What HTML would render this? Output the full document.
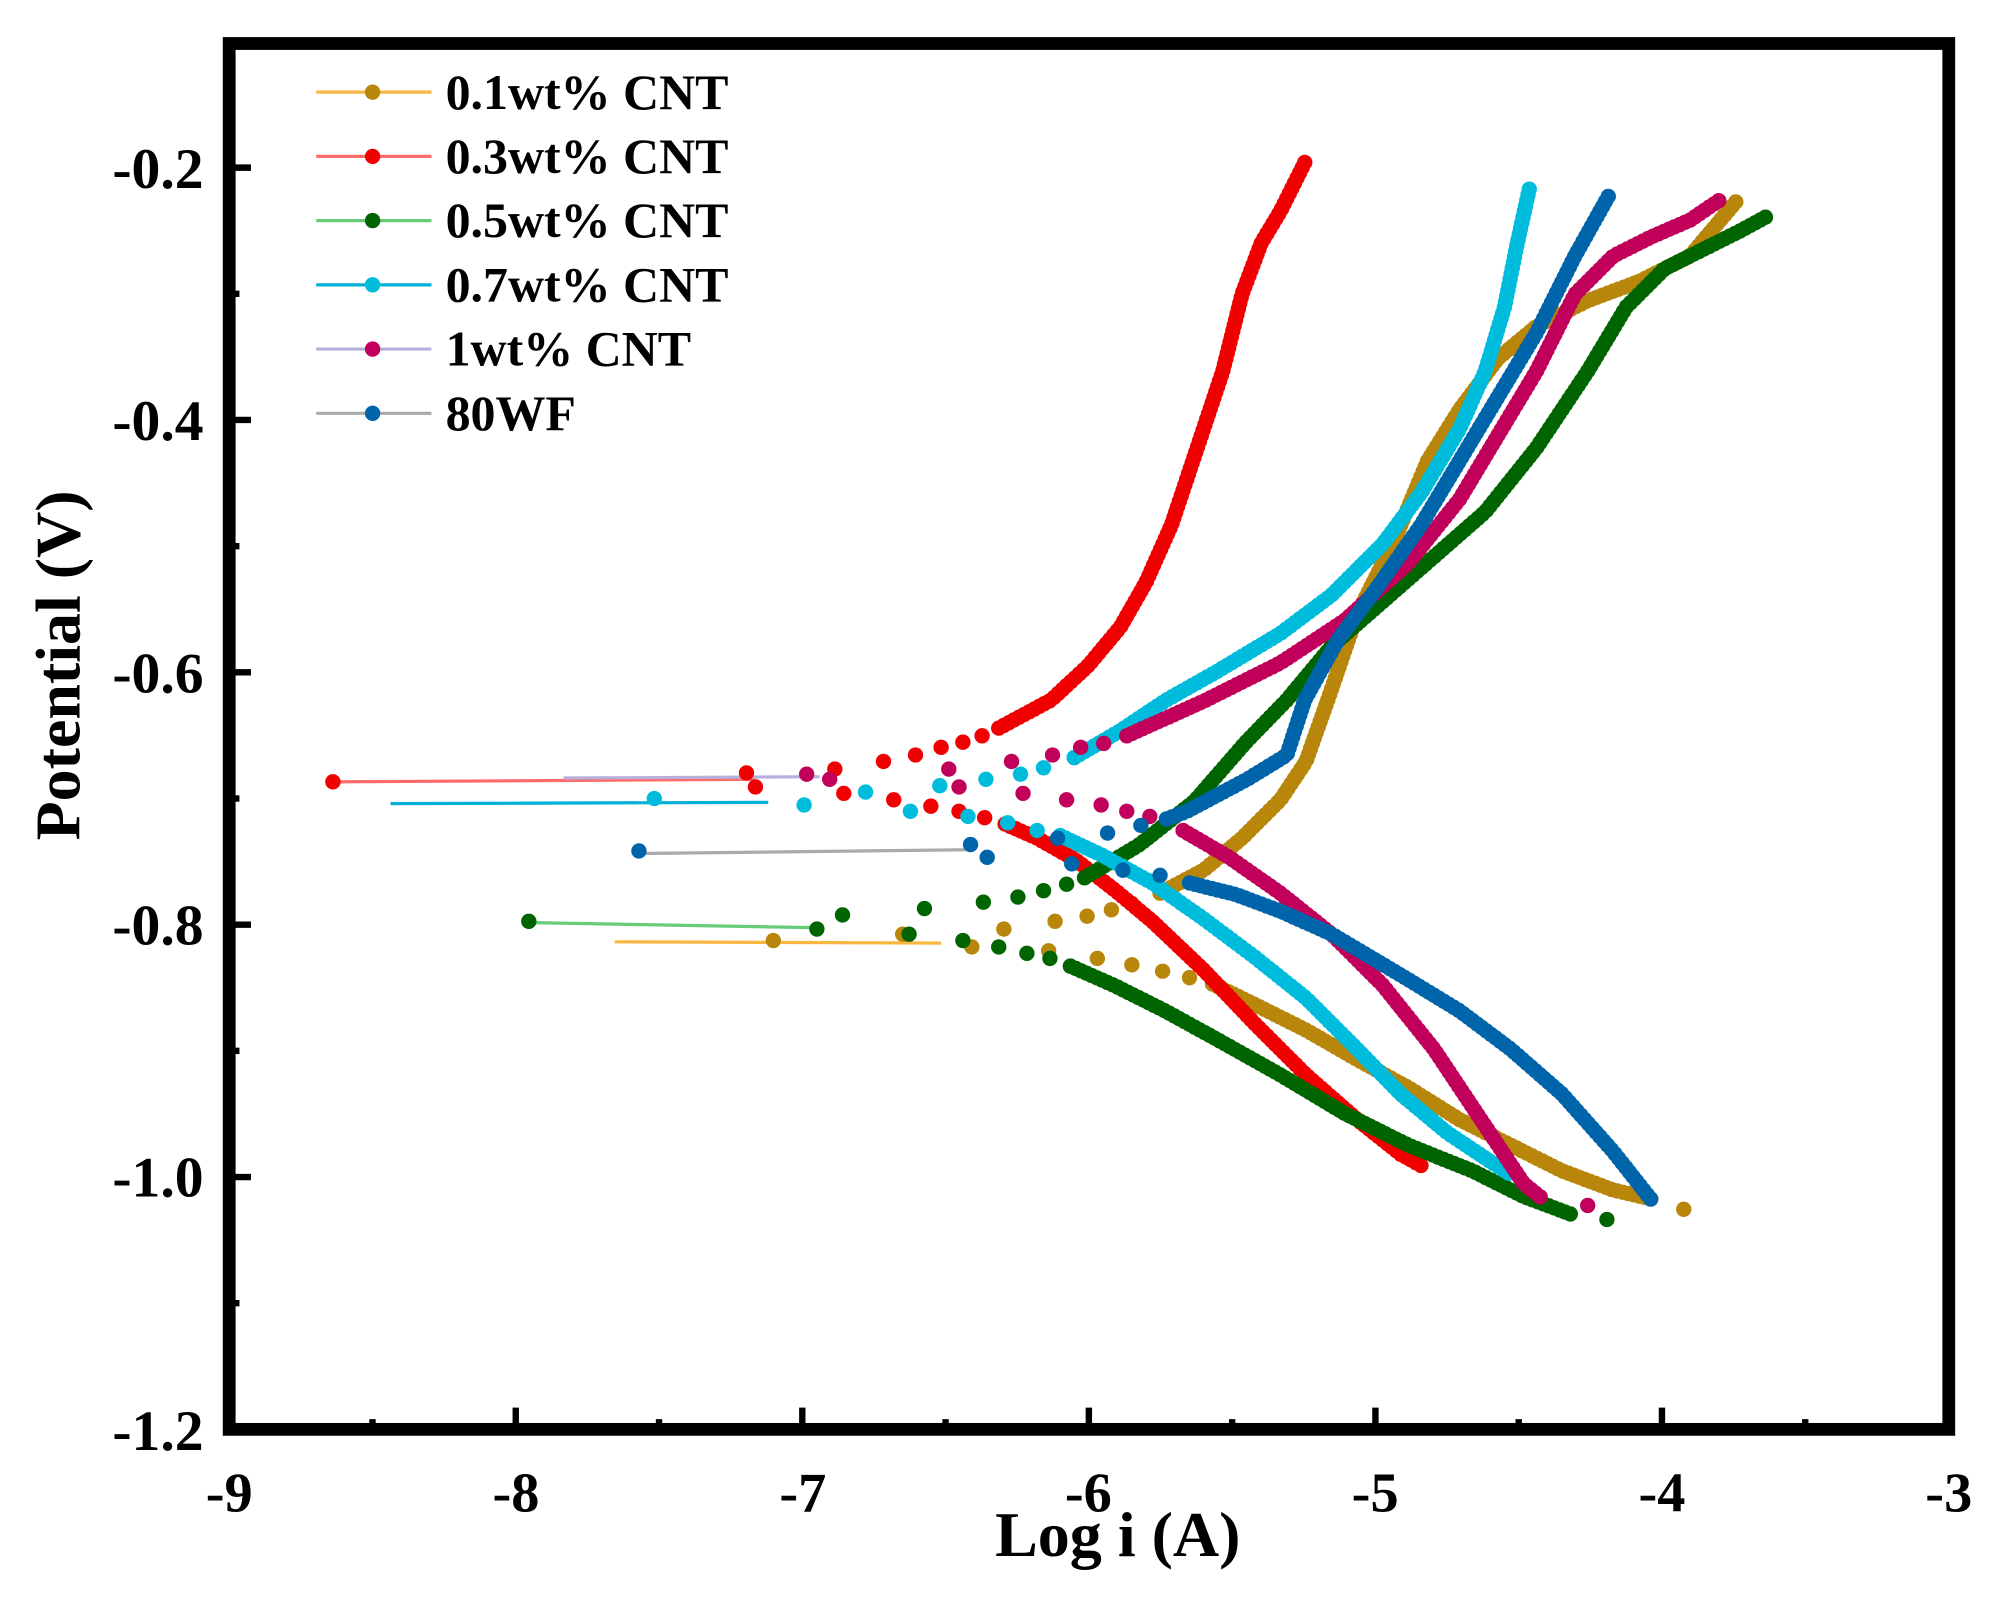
<!DOCTYPE html>
<html><head><meta charset="utf-8"><style>
html,body{margin:0;padding:0;background:#fff;}
svg{display:block;}
text{font-family:"Liberation Serif",serif;font-weight:bold;fill:#000;}
</style></head><body>
<svg id="s" width="2000" height="1597" viewBox="0 0 1562 1248" preserveAspectRatio="none" xmlns="http://www.w3.org/2000/svg">
<rect width="1562" height="1248" fill="#fff"/>
<g id="hl"></g>
<g id="pts"></g>
<rect x="179" y="34" width="1343" height="1083" fill="none" stroke="#000" stroke-width="10"/>
<g id="ticks" stroke="#000" stroke-width="5"></g>
<g font-size="45" text-anchor="end">
<text x="159" y="147">-0.2</text><text x="159" y="344">-0.4</text><text x="159" y="541">-0.6</text>
<text x="159" y="738">-0.8</text><text x="159" y="935">-1.0</text><text x="159" y="1133">-1.2</text>
</g>
<g font-size="44" text-anchor="middle">
<text x="179" y="1181">-9</text><text x="403" y="1181">-8</text><text x="627" y="1181">-7</text>
<text x="850" y="1181">-6</text><text x="1074" y="1181">-5</text><text x="1298" y="1181">-4</text><text x="1522" y="1181">-3</text>
</g>
<text x="873" y="1216" font-size="50" text-anchor="middle">Log i (A)</text>
<text transform="translate(62,520) rotate(-90)" font-size="50" text-anchor="middle">Potential (V)</text>
<g id="leg" font-size="39"></g>
</svg>
<script>
var NS="http://www.w3.org/2000/svg";
function el(t,a,p){var e=document.createElementNS(NS,t);for(var k in a)e.setAttribute(k,a[k]);p.appendChild(e);return e;}
var T=document.getElementById('ticks');
for(var i=0;i<=12;i++){var x=179+111.9*i;var L=(i%2==0)?17:8;el('line',{x1:x,y1:1117,x2:x,y2:1117-L},T);}
for(var i=0;i<=11;i++){var y=1117-98.6*i;if(y<40)break;var L=(i%2==0)?17:8;el('line',{x1:179,y1:y,x2:179+L,y2:y},T);}
var S=[
{lc:"#f9b742",mc:"#b8860b",name:"0.1wt% CNT",line:[[480,736],[735,737]],
 sp:[[604,735],[705,730],[759,740],[784,726],[819,743],[824,720],[857,749],[849,716],[884,754],[868,711],[908,759],[884,706],[929,764]],
 dense:[[[906,698],[940,680],[970,655],[1000,625],[1020,595],[1037,547],[1060,480],[1090,420],[1115,360],[1140,320],[1170,280],[1200,255],[1240,235],[1280,220],[1320,200],[1358,155]],
        [[947,769],[980,785],[1020,805],[1060,828],[1100,850],[1140,875],[1180,895],[1220,915],[1260,930],[1290,937]]],extra:[[1315,945]]},
{lc:"#ff6b6b",mc:"#f00000",name:"0.3wt% CNT",line:[[260,611],[590,609]],
 sp:[[260,611],[583,604],[590,615],[659,620],[698,625],[727,630],[749,634],[769,639],[652,601],[690,595],[715,590],[735,584],[752,580],[767,575]],
 dense:[[[780,569],[821,547],[850,520],[875,490],[895,455],[915,410],[935,350],[955,290],[970,230],[985,190],[1000,165],[1020,125]],
        [[785,644],[810,655],[840,672],[870,695],[900,720],[940,758],[980,800],[1020,840],[1060,875],[1094,902],[1112,912]]],extra:[]},
{lc:"#66cc77",mc:"#006400",name:"0.5wt% CNT",line:[[415,721],[640,725]],
 sp:[[413,720],[638,726],[658,715],[710,730],[722,710],[752,735],[768,705],[780,740],[795,701],[802,745],[815,696],[820,749],[833,691],[836,755]],
 dense:[[[847,686],[890,660],[933,626],[973,580],[1005,547],[1040,505],[1080,470],[1120,435],[1160,400],[1200,350],[1240,290],[1270,240],[1300,210],[1330,195],[1360,180],[1382,168]],
        [[836,755],[870,770],[910,790],[950,812],[1000,840],[1050,870],[1100,895],[1150,915],[1190,935],[1230,950]]],extra:[[1255,953]]},
{lc:"#00b0d8",mc:"#00bcdc",name:"0.7wt% CNT",line:[[305,628],[600,627]],
 sp:[[511,624],[628,629],[676,619],[711,634],[734,614],[756,638],[770,609],[787,643],[810,649],[797,605],[815,600],[839,592]],
 dense:[[[839,592],[875,571],[911,547],[950,525],[1000,495],[1040,465],[1080,425],[1110,385],[1140,335],[1160,290],[1175,240],[1185,190],[1195,145]],
        [[828,653],[860,668],[900,690],[940,718],[980,748],[1020,780],[1060,820],[1094,855],[1130,885],[1160,905],[1180,918]]],extra:[]},
{lc:"#b8b0dc",mc:"#c0005a",name:"1wt% CNT",line:[[440,608],[640,607]],
 sp:[[630,605],[648,609],[741,601],[749,615],[790,595],[799,620],[833,625],[860,629],[880,634],[898,638],[822,590],[844,584],[862,581]],
 dense:[[[880,575],[940,548],[1000,518],[1050,485],[1100,440],[1140,390],[1170,340],[1200,290],[1230,230],[1260,200],[1290,185],[1320,172],[1345,155]],
        [[924,649],[960,670],[1000,698],[1040,730],[1080,770],[1120,820],[1160,880],[1190,925],[1205,937]]],extra:[[1240,942]]},
{lc:"#aaaaaa",mc:"#0064aa",name:"80WF",line:[[500,667],[760,664]],
 sp:[[499,665],[758,660],[771,670],[837,675],[826,655],[865,651],[877,680],[891,645],[906,684],[911,640]],
 dense:[[[911,640],[927,634],[974,609],[1005,590],[1019,547],[1045,500],[1075,460],[1110,410],[1140,360],[1170,310],[1200,260],[1230,200],[1258,150]],
        [[929,690],[965,699],[1000,712],[1040,730],[1094,762],[1140,790],[1180,820],[1220,855],[1260,900],[1290,938]]],extra:[]}
];
var HL=document.getElementById('hl'),P=document.getElementById('pts'),LG=document.getElementById('leg');
function dot(x,y,c){el('circle',{cx:x,cy:y,r:6,fill:c},P);}
S.forEach(function(s,idx){
  el('polyline',{points:s.line.map(function(p){return p.join(',')}).join(' '),fill:'none',stroke:s.lc,'stroke-width':2.5},HL);
  s.sp.forEach(function(p){dot(p[0],p[1],s.mc);});
  s.dense.forEach(function(pl){
    var carry=0;
    for(var i=0;i<pl.length-1;i++){
      var a=pl[i],b=pl[i+1],dx=b[0]-a[0],dy=b[1]-a[1],d=Math.sqrt(dx*dx+dy*dy);
      var t=carry;
      while(t<=d){dot(a[0]+dx*t/d,a[1]+dy*t/d,s.mc);t+=4.5;}
      carry=t-d;
    }
  });
  s.extra.forEach(function(p){dot(p[0],p[1],s.mc);});
  var y=72+50.2*idx;
  el('line',{x1:247,y1:y,x2:337,y2:y,stroke:s.lc,'stroke-width':2.5},LG);
  el('circle',{cx:291,cy:y,r:6,fill:s.mc},LG);
  var t=el('text',{x:348,y:y+13},LG);t.textContent=s.name;
});
</script>
</body></html>
